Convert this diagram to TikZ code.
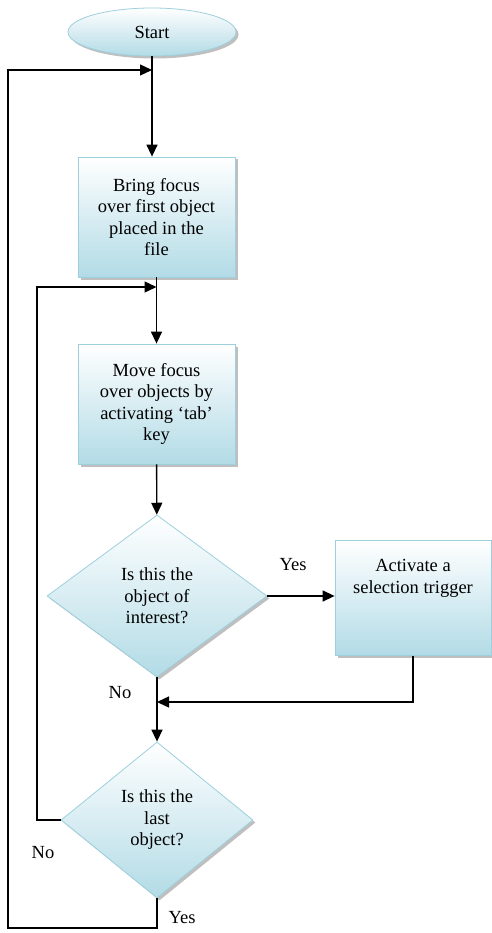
\documentclass[tikz,border=0pt]{standalone}
\usepackage{fontspec}
\setmainfont{Liberation Serif}
\usetikzlibrary{shapes.geometric,shadows,arrows.meta}
\definecolor{boxline}{HTML}{9DCFDD}
\definecolor{boxfill}{HTML}{B2DBE6}
\begin{document}
\begin{tikzpicture}[x=1pt, y=-1pt,
  font=\fontsize{18.5}{21.5}\selectfont,
  shade box/.style={draw=boxline, thick, top color=white, bottom color=boxfill,
    drop shadow={fill=gray, opacity=.5, shadow xshift=2.5pt, shadow yshift=-2.5pt},
    align=center, inner sep=0pt},
  flow/.style={draw=black, line width=1.4pt, -{Triangle[length=12pt,width=11pt]}},
  link/.style={draw=black, line width=1.4pt}]
  \useasboundingbox (0,0) rectangle (491,933);

  \node[shade box, ellipse, minimum width=168pt, minimum height=48pt] (start) at (152,32) {Start};
  \node[shade box, minimum width=157pt, minimum height=120pt] (bring) at (156.5,217)
    {Bring focus\\over first object\\placed in the\\file};
  \node[shade box, minimum width=157pt, minimum height=120pt] (move) at (156.5,404)
    {Move focus\\over objects by\\activating `tab'\\key};
  \node[shade box, diamond, aspect=1.35, minimum width=220pt, minimum height=162pt] (interest) at (157,596)
    {Is this the\\object of\\interest?};
  \node[shade box, minimum width=156pt, minimum height=115pt] (trigger) at (413,598)
    {Activate a\\selection trigger\\~\\~};
  \node[shade box, diamond, aspect=1.25, minimum width=192pt, minimum height=156pt] (last) at (157,820)
    {Is this the\\last\\object?};

  \coordinate (top) at (152,70);
  \coordinate (outer) at (8,928);
  \coordinate (inner) at (37,287);
  \coordinate (back) at (156.5,287);
  \coordinate (join) at (157,702);

  \draw[flow] (start) -- (start |- bring.north);
  \draw[flow] (bring) -- (move);
  \draw[flow] (move) -- (interest);
  \draw[flow] (interest.east) -- (interest.east -| trigger.west);
  \draw[flow] (trigger.south) |- (join);
  \draw[flow] (interest) -- (last);
  \draw[flow] (last.west) -| (inner) -- (back);
  \draw[flow] (last.south) |- (outer) |- (top);

  \node (yes1) at (293,565) {Yes};
  \node (no1) at (120,693) {No};
  \node (no2) at (43,853) {No};
  \node (yes2) at (182,918) {Yes};
\end{tikzpicture}
\end{document}
